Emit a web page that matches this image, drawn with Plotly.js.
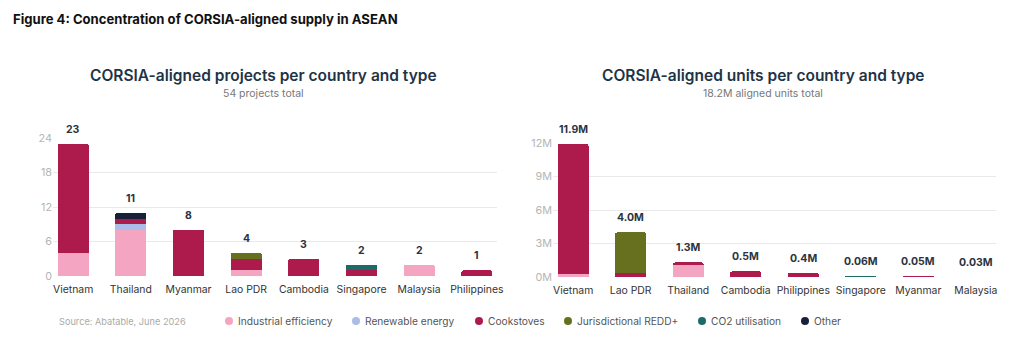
<!DOCTYPE html>
<html>
<head>
<meta charset="utf-8">
<script src="https://cdn.plot.ly/plotly-3.0.1.min.js"></script>
<style>
  html, body { margin: 0; padding: 0; background: #ffffff; }
  #chart { width: 1024px; height: 350px; }
</style>
</head>
<body>
<div id="chart"></div>
<script>
// Project types, bottom to top of each stack
const typeNames = ['Industrial efficiency', 'Renewable energy', 'Cookstoves', 'Jurisdictional REDD+', 'CO2 utilisation', 'Other'];
const typeColors = ['#f3a5c2', '#a9bde8', '#ad1b4c', '#66701f', '#1d6b69', '#18203a'];

// Projects per country (count)
const projCountries = ['Vietnam', 'Thailand', 'Myanmar', 'Lao PDR', 'Cambodia', 'Singapore', 'Malaysia', 'Philippines'];
const projIndustrial = [4, 8, 0, 1, 0, 0, 2, 0];
const projRenewable  = [0, 1, 0, 0, 0, 0, 0, 0];
const projCookstoves = [19, 1, 8, 2, 3, 1, 0, 1];
const projRedd       = [0, 0, 0, 1, 0, 0, 0, 0];
const projCo2        = [0, 0, 0, 0, 0, 1, 0, 0];
const projOther      = [0, 1, 0, 0, 0, 0, 0, 0];

// Aligned units per country (millions)
const unitCountries = ['Vietnam', 'Lao PDR', 'Thailand', 'Cambodia', 'Philippines', 'Singapore', 'Myanmar', 'Malaysia'];
const unitIndustrial = [0.3, 0, 1.1, 0, 0, 0, 0, 0.03];
const unitRenewable  = [0, 0, 0, 0, 0, 0, 0, 0];
const unitCookstoves = [11.6, 0.35, 0.2, 0.5, 0.4, 0, 0.05, 0];
const unitRedd       = [0, 3.65, 0, 0, 0, 0, 0, 0];
const unitCo2        = [0, 0, 0, 0, 0, 0.06, 0, 0];
const unitOther      = [0, 0, 0, 0, 0, 0, 0, 0];

// Axis ticks
const projTicks = [0, 6, 12, 18, 24];
const unitTicks = [0, 3, 6, 9, 12];
const unitTickText = ['0M', '3M', '6M', '9M', '12M'];

const projSeries = [projIndustrial, projRenewable, projCookstoves, projRedd, projCo2, projOther];
const unitSeries = [unitIndustrial, unitRenewable, unitCookstoves, unitRedd, unitCo2, unitOther];

const FONT = 'Inter, "Noto Sans", "DejaVu Sans", sans-serif';
const W = 1024, H = 350;
const px = v => v / W;          // horizontal pixel -> paper
const py = v => 1 - v / H;      // vertical pixel -> paper

function sumSeries(series) {
  return series[0].map((_, i) => series.reduce((s, arr) => s + arr[i], 0));
}

const traces = [];
function addStack(countries, series, xa, ya) {
  series.forEach((vals, k) => {
    traces.push({
      type: 'bar',
      x: countries,
      y: vals.map(v => (v === 0 ? null : v)),
      name: typeNames[k],
      marker: { color: typeColors[k], line: { width: 0 } },
      xaxis: xa, yaxis: ya,
      showlegend: false,
      hoverinfo: 'x+y+name'
    });
  });
}
addStack(projCountries, projSeries, 'x', 'y');
addStack(unitCountries, unitSeries, 'x2', 'y2');

const annotations = [];
const valueFont = { family: FONT, size: 10.5, color: '#2b3440', weight: 700 };

// Stack totals above each bar
const projTotals = sumSeries(projSeries);
projCountries.forEach((c, i) => {
  annotations.push({
    xref: 'x', yref: 'y', x: c, y: projTotals[i],
    text: String(Math.round(projTotals[i])),
    showarrow: false, yanchor: 'bottom', yshift: 6,
    font: valueFont
  });
});
const unitTotals = sumSeries(unitSeries);
unitCountries.forEach((c, i) => {
  const t = unitTotals[i];
  const label = (t >= 0.1 ? t.toFixed(1) : t.toFixed(2)) + 'M';
  annotations.push({
    xref: 'x2', yref: 'y2', x: c, y: t,
    text: label,
    showarrow: false, yanchor: 'bottom', yshift: 6,
    font: valueFont
  });
});

// Headings
annotations.push({
  xref: 'paper', yref: 'paper', x: px(11), y: py(19), xanchor: 'left', yanchor: 'middle',
  text: '<b>Figure 4: Concentration of CORSIA-aligned supply in ASEAN</b>', showarrow: false,
  font: { family: FONT, size: 13.1, color: '#111111' }
});
const chartHeads = [
  { cx: 263, title: 'CORSIA-aligned projects per country and type', sub: projTotals.reduce((a, b) => a + b, 0) + ' projects total' },
  { cx: 763, title: 'CORSIA-aligned units per country and type', sub: unitTotals.reduce((a, b) => a + b, 0).toFixed(1) + 'M aligned units total' }
];
chartHeads.forEach(h => {
  annotations.push({
    xref: 'paper', yref: 'paper', x: px(h.cx), y: py(75), xanchor: 'center', yanchor: 'middle',
    text: h.title, showarrow: false,
    font: { family: FONT, size: 15.5, color: '#1e3446', weight: 600 }
  });
  annotations.push({
    xref: 'paper', yref: 'paper', x: px(h.cx), y: py(93), xanchor: 'center', yanchor: 'middle',
    text: h.sub, showarrow: false,
    font: { family: FONT, size: 10.5, color: '#777777' }
  });
});

// Footer: source and legend
annotations.push({
  xref: 'paper', yref: 'paper', x: px(57), y: py(321), xanchor: 'left', yanchor: 'middle',
  text: 'Source: Abatable, June 2026', showarrow: false,
  font: { family: FONT, size: 9.2, color: '#aaaaaa' }
});
const legendDotX = [229, 356, 479, 568, 702, 805];
const shapes = [];
typeNames.forEach((name, k) => {
  shapes.push({
    type: 'circle', xref: 'paper', yref: 'paper',
    xsizemode: 'pixel', ysizemode: 'pixel',
    xanchor: px(legendDotX[k]), yanchor: py(321),
    x0: -4, x1: 4, y0: -4, y1: 4,
    fillcolor: typeColors[k], line: { width: 0 }
  });
  annotations.push({
    xref: 'paper', yref: 'paper', x: px(legendDotX[k] + 7), y: py(321), xanchor: 'left', yanchor: 'middle',
    text: name, showarrow: false,
    font: { family: FONT, size: 10.2, color: '#555555' }
  });
});

const xCommon = {
  type: 'category', range: [-0.35, 7.35], showgrid: false, zeroline: false, showline: false,
  ticks: '', tickangle: 0, ticklabelstandoff: 6,
  tickfont: { family: FONT, size: 10.4, color: '#333333' }, fixedrange: true
};
const yCommon = {
  showgrid: true, gridcolor: '#e9e9e9', gridwidth: 1, zeroline: false, showline: false,
  ticks: '', tickfont: { family: FONT, size: 10.8, color: '#b5b5b5' }, fixedrange: true
};

const layout = {
  width: W, height: H,
  margin: { l: 0, r: 0, t: 0, b: 0 },
  paper_bgcolor: '#ffffff', plot_bgcolor: '#ffffff',
  barmode: 'stack', bargap: 0.46, barcornerradius: 2,
  showlegend: false,
  xaxis:  Object.assign({}, xCommon, { domain: [px(53), px(497)], anchor: 'y' }),
  yaxis:  Object.assign({}, yCommon, { domain: [py(276), py(138)], range: [0, 24], tickvals: projTicks, anchor: 'x' }),
  xaxis2: Object.assign({}, xCommon, { domain: [px(553), px(996)], anchor: 'y2' }),
  yaxis2: Object.assign({}, yCommon, { domain: [py(277), py(143)], range: [0, 12], tickmode: 'array', tickvals: unitTicks, ticktext: unitTickText, anchor: 'x2' }),
  annotations: annotations,
  shapes: shapes
};

Plotly.newPlot('chart', traces, layout, { displayModeBar: false, staticPlot: true });
</script>
</body>
</html>
